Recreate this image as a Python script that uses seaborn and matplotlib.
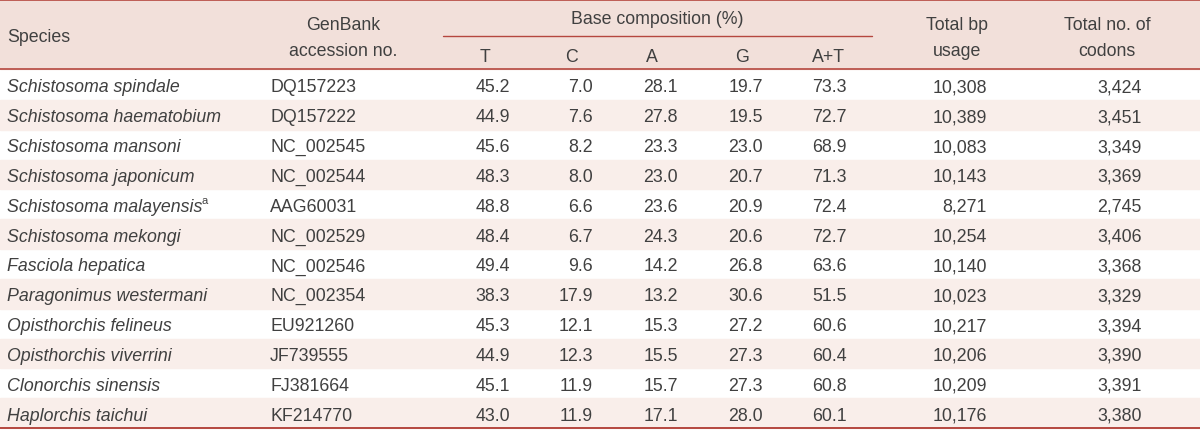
import matplotlib
matplotlib.use("Agg")
import matplotlib.pyplot as plt
import seaborn as sns
from matplotlib.patches import Rectangle

sns.set_theme(style="white")
plt.rcParams['font.family'] = ['Liberation Sans', 'DejaVu Sans']

# table data
species = ["Schistosoma spindale", "Schistosoma haematobium", "Schistosoma mansoni",
           "Schistosoma japonicum", "Schistosoma malayensis", "Schistosoma mekongi",
           "Fasciola hepatica", "Paragonimus westermani", "Opisthorchis felineus",
           "Opisthorchis viverrini", "Clonorchis sinensis", "Haplorchis taichui"]
footnote = ["", "", "", "", "a", "", "", "", "", "", "", ""]
accession = ["DQ157223", "DQ157222", "NC_002545", "NC_002544", "AAG60031", "NC_002529",
             "NC_002546", "NC_002354", "EU921260", "JF739555", "FJ381664", "KF214770"]
base_T = [45.2, 44.9, 45.6, 48.3, 48.8, 48.4, 49.4, 38.3, 45.3, 44.9, 45.1, 43.0]
base_C = [7.0, 7.6, 8.2, 8.0, 6.6, 6.7, 9.6, 17.9, 12.1, 12.3, 11.9, 11.9]
base_A = [28.1, 27.8, 23.3, 23.0, 23.6, 24.3, 14.2, 13.2, 15.3, 15.5, 15.7, 17.1]
base_G = [19.7, 19.5, 23.0, 20.7, 20.9, 20.6, 26.8, 30.6, 27.2, 27.3, 27.3, 28.0]
base_AT = [73.3, 72.7, 68.9, 71.3, 72.4, 72.7, 63.6, 51.5, 60.6, 60.4, 60.8, 60.1]
total_bp = [10308, 10389, 10083, 10143, 8271, 10254, 10140, 10023, 10217, 10206, 10209, 10176]
total_codons = [3424, 3451, 3349, 3369, 2745, 3406, 3368, 3329, 3394, 3390, 3391, 3380]
base_labels = ["T", "C", "A", "G", "A+T"]

HEAD_BG = "#f2e0da"
STRIPE = "#f9eeea"
LINE = "#b5473f"
TXT = "#404040"
FS = 12.8

fig = plt.figure(figsize=(12, 4.31), dpi=100)
ax = fig.add_axes([0, 0, 1, 1])
ax.set_xlim(0, 1200)
ax.set_ylim(431, 0)
ax.axis("off")

head_bottom = 70
row_h = (429 - 71) / len(species)

# header background and lines
ax.add_patch(Rectangle((0, 0), 1200, head_bottom, color=HEAD_BG, zorder=0))
ax.plot([0, 1200], [1, 1], color=LINE, lw=1.2)
ax.plot([0, 1200], [head_bottom, head_bottom], color=LINE, lw=1.2)
ax.plot([443, 872], [37, 37], color=LINE, lw=1.0)
ax.plot([0, 1200], [429.5, 429.5], color=LINE, lw=1.4)

hkw = dict(fontsize=FS, color=TXT, va="center")
ax.text(7, 37, "Species", ha="left", **hkw)
ax.text(343, 25, "GenBank", ha="center", **hkw)
ax.text(343, 52, "accession no.", ha="center", **hkw)
ax.text(657, 20, "Base composition (%)", ha="center", **hkw)
head_x = [485, 572, 652, 742, 828]
for x, lab in zip(head_x, base_labels):
    ax.text(x, 57, lab, ha="center", **hkw)
ax.text(957, 25, "Total bp", ha="center", **hkw)
ax.text(957, 52, "usage", ha="center", **hkw)
ax.text(1107, 25, "Total no. of", ha="center", **hkw)
ax.text(1107, 52, "codons", ha="center", **hkw)

# body rows
val_right = [510, 593, 678, 763, 847]
for i, sp in enumerate(species):
    top = 71 + i * row_h
    yc = top + row_h / 2 + 2
    if i % 2 == 1:
        ax.add_patch(Rectangle((0, top), 1200, row_h, color=STRIPE, zorder=0))
    t = ax.text(7, yc, sp, ha="left", style="italic", **hkw)
    if footnote[i]:
        fig.canvas.draw()
        bb = t.get_window_extent().transformed(ax.transData.inverted())
        ax.text(bb.x1 - 1, yc - 6, footnote[i], ha="left", fontsize=8,
                color=TXT, va="center")
    ax.text(270, yc, accession[i], ha="left", **hkw)
    vals = [base_T[i], base_C[i], base_A[i], base_G[i], base_AT[i]]
    for x, v in zip(val_right, vals):
        ax.text(x, yc, f"{v:.1f}", ha="right", **hkw)
    ax.text(987, yc, f"{total_bp[i]:,}", ha="right", **hkw)
    ax.text(1142, yc, f"{total_codons[i]:,}", ha="right", **hkw)

fig.savefig("out.png", dpi=100, facecolor="white")
